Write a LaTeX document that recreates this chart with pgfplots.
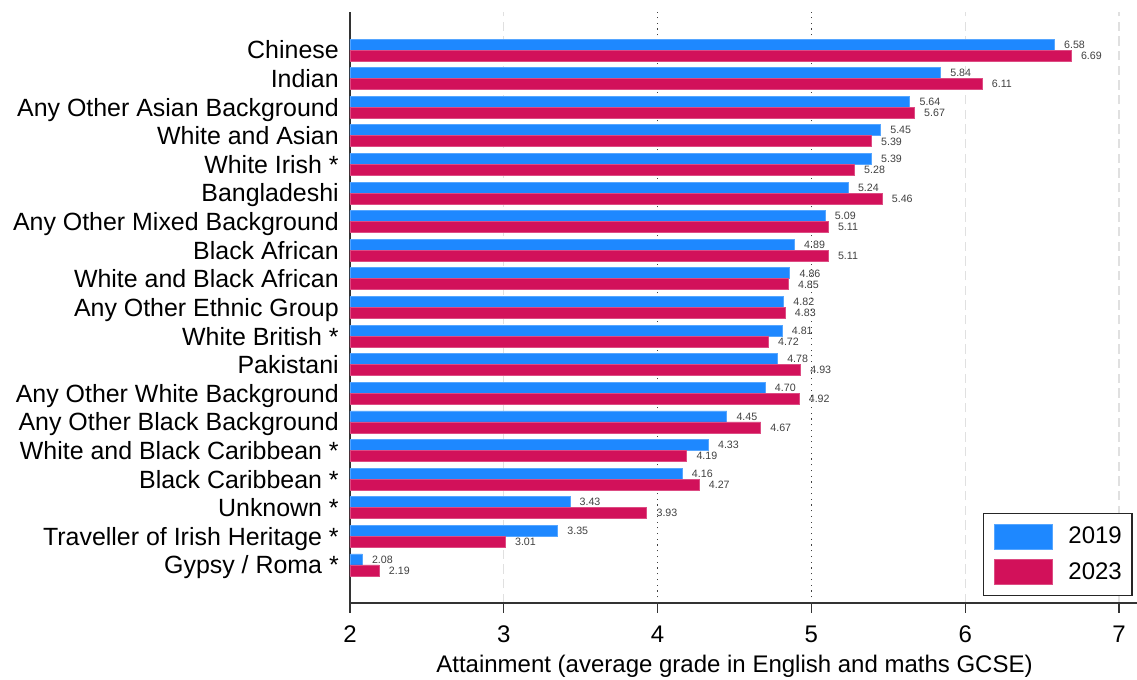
\documentclass[border=0pt]{standalone}
\usepackage{pgfplots}
\pgfplotsset{compat=1.18}
\usepackage{fontspec}
\setmainfont{Liberation Sans}
\definecolor{c19}{RGB}{30,136,255}
\definecolor{c23}{RGB}{210,17,90}
\begin{document}
\begin{tikzpicture}
\begin{axis}[
  at={(0,0)}, anchor=south west,
  scale only axis, width=590.25pt, height=443.25pt,
  xmin=2, xmax=7.117, ymin=-1.33, ymax=19.33,
  xbar, bar width=8.25pt,
  axis x line*=bottom, axis y line*=left,
  axis line style={-, line width=1pt, color=black!80},
  xtick={2,3,6,7},
  extra x ticks={4,5},
  extra x tick labels={4,5},
  extra x tick style={grid=major, major grid style={black!75, line width=0.9pt, dash pattern=on 0.9pt off 3.4pt}},
  xmajorgrids,
  major grid style={black!12, line width=1pt, dash pattern=on 7pt off 4pt},
  ytick={0,...,18},
  yticklabels={Gypsy / Roma *, Traveller of Irish Heritage *, Unknown *, Black Caribbean *, White and Black Caribbean *, Any Other Black Background, Any Other White Background, Pakistani, White British *, Any Other Ethnic Group, White and Black African, Black African, Any Other Mixed Background, Bangladeshi, White Irish *, White and Asian, Any Other Asian Background, Indian, Chinese},
  tick align=outside,
  major tick length=7.5pt,
  xtick style={line width=1pt, color=black!80},
  ytick style={draw=none},
  xticklabel style={font=\fontsize{18}{20}\selectfont, anchor=base, inner sep=0pt, yshift=-21.75pt},
  yticklabel style={font=\fontsize{18.7}{20}\selectfont, anchor=base east, inner sep=0pt, xshift=-0.75pt, yshift=-6.7pt},
  /pgf/number format/assume math mode=true,
  xlabel={Attainment (average grade in English and maths GCSE)},
  xlabel style={font=\fontsize{18}{20}\selectfont, at={(axis description cs:0.4886,0)}, anchor=base, inner sep=0pt, yshift=-52.5pt},
  point meta=x,
  nodes near coords={\pgfmathprintnumber[fixed,fixed zerofill,precision=2,assume math mode=true]{\pgfplotspointmeta}},
  nodes near coords style={font=\fontsize{8}{9}\selectfont, color=black!75, anchor=west, inner sep=0pt, xshift=7pt},
  legend image code/.code={\draw[#1] (0pt,-9.375pt) rectangle (43.5pt,9.375pt);},
  legend style={at={(0.8043,0.1523)}, anchor=north west, draw=black!85, line width=1pt, fill=white,
    font=\fontsize{18}{20}\selectfont, inner xsep=7.5pt, inner ysep=7.5pt, row sep=7.5pt,
    nodes={inner sep=0pt, anchor=west},
    /tikz/every odd column/.append style={column sep=12pt}},
  legend cell align=left,
]
\addplot[fill=c19, draw=c19!75!white, line width=0.6pt, bar shift=4.125pt] coordinates {
 (6.58,18) (5.84,17) (5.64,16) (5.45,15) (5.39,14) (5.24,13) (5.09,12) (4.89,11) (4.86,10) (4.82,9)
 (4.81,8) (4.78,7) (4.70,6) (4.45,5) (4.33,4) (4.16,3) (3.43,2) (3.35,1) (2.08,0)};
\addplot[fill=c23, draw=c23!75!white, line width=0.6pt, bar shift=-4.125pt] coordinates {
 (6.69,18) (6.11,17) (5.67,16) (5.39,15) (5.28,14) (5.46,13) (5.11,12) (5.11,11) (4.85,10) (4.83,9)
 (4.72,8) (4.93,7) (4.92,6) (4.67,5) (4.19,4) (4.27,3) (3.93,2) (3.01,1) (2.19,0)};
\legend{2019,2023}
\end{axis}
\pgfresetboundingbox
\path[use as bounding box] (-262.5pt,-57.75pt) rectangle (590.25pt,452.25pt);
\end{tikzpicture}
\end{document}
